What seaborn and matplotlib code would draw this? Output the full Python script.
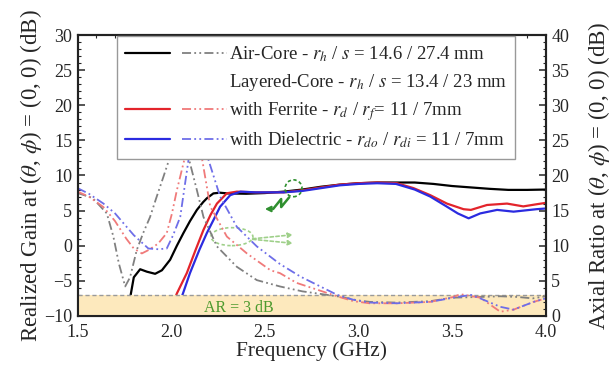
import numpy as np
import pandas as pd
import matplotlib
matplotlib.use("Agg")
import matplotlib.pyplot as plt
from matplotlib.patches import Ellipse
from matplotlib.legend_handler import HandlerTuple
import seaborn as sns

# == DATA ==
# realized gain (dB), left axis
air_f = [1.771, 1.78, 1.80, 1.834, 1.87, 1.914, 1.95, 1.994, 2.03, 2.065, 2.10, 2.137, 2.17, 2.19,
         2.225, 2.26, 2.30, 2.40, 2.50, 2.60, 2.70, 2.80, 2.90, 3.00, 3.10, 3.20, 3.30, 3.40,
         3.50, 3.60, 3.70, 3.80, 3.90, 4.00]
air_gain = [-10, -7.5, -4.5, -3.35, -3.7, -4.0, -3.5, -2.0, 0.0, 1.8, 3.5, 5.1, 6.2, 6.75,
            7.45, 7.55, 7.45, 7.4, 7.5, 7.7, 8.0, 8.4, 8.7, 8.9, 9.0, 9.0, 9.0, 8.8,
            8.5, 8.3, 8.1, 7.95, 7.95, 8.0]

fer_f = [1.959, 1.994, 2.03, 2.083, 2.13, 2.172, 2.21, 2.244, 2.297, 2.35, 2.45, 2.60, 2.70, 2.80,
         2.90, 3.00, 3.10, 3.205, 3.294, 3.383, 3.472, 3.561, 3.60, 3.686, 3.793, 3.88, 3.95, 4.00]
fer_gain = [-10, -9.3, -6.8, -3.9, -0.6, 2.25, 4.4, 6.0, 7.47, 7.7, 7.6, 7.6, 7.9, 8.3,
            8.7, 8.9, 9.0, 8.9, 8.2, 7.2, 6.0, 5.2, 5.1, 5.8, 6.0, 5.6, 5.9, 6.1]

die_f = [2.02, 2.06, 2.10, 2.15, 2.19, 2.23, 2.261, 2.315, 2.37, 2.45, 2.60, 2.70, 2.80, 2.90,
         3.00, 3.10, 3.20, 3.30, 3.383, 3.472, 3.53, 3.588, 3.65, 3.74, 3.828, 3.95, 4.00]
die_gain = [-10, -7.0, -3.9, -0.6, 1.8, 3.9, 5.56, 7.2, 7.7, 7.6, 7.6, 7.8, 8.2, 8.6,
            8.8, 8.9, 8.8, 8.0, 7.0, 5.56, 4.6, 3.9, 4.6, 5.1, 4.85, 5.2, 5.3]

# axial ratio (dB), right axis
air_ar_f = [1.50, 1.58, 1.656, 1.691, 1.72, 1.754, 1.78, 1.816, 1.85, 1.887, 1.92, 1.958, 1.994,
            2.045, 2.092, 2.137, 2.172, 2.244, 2.35, 2.457, 2.58, 2.70, 2.886, 3.00, 3.06, 3.20,
            3.383, 3.50, 3.65, 3.757, 3.85, 3.93, 4.00]
air_ar = [17.5, 16.8, 14.6, 11.3, 7.5, 4.2, 5.5, 9.4, 11.8, 14.1, 16.8, 19.8, 22.7,
          36.0, 22.6, 17.9, 14.1, 9.9, 7.0, 5.1, 4.2, 3.5, 2.8, 2.2, 2.0, 1.9,
          2.1, 2.6, 2.7, 2.8, 2.7, 2.5, 2.8]

fer_ar_f = [1.50, 1.56, 1.638, 1.70, 1.76, 1.80, 1.843, 1.88, 1.93, 1.976, 2.003, 2.03, 2.074,
            2.12, 2.163, 2.208, 2.297, 2.404, 2.53, 2.58, 2.67, 2.886, 2.973, 3.06, 3.205,
            3.383, 3.507, 3.543, 3.65, 3.757, 3.828, 3.935, 4.00]
fer_ar = [17.7, 17.0, 15.5, 13.5, 11.0, 9.6, 8.9, 9.4, 10.3, 11.8, 14.5, 17.9, 22.7,
          36.0, 22.6, 15.6, 11.3, 8.9, 6.5, 6.1, 4.7, 2.8, 2.1, 1.8, 1.8,
          2.0, 2.7, 3.1, 2.6, 0.6, 0.9, 2.0, 2.5]

die_ar_f = [1.50, 1.56, 1.638, 1.70, 1.745, 1.80, 1.878, 1.93, 1.976, 2.01, 2.048, 2.092,
            2.145, 2.199, 2.261, 2.35, 2.457, 2.58, 2.69, 2.886, 2.973, 3.06, 3.205, 3.383,
            3.507, 3.60, 3.65, 3.757, 3.828, 3.935, 4.00]
die_ar = [18.2, 17.4, 16.0, 14.6, 13.2, 11.5, 9.6, 9.5, 9.6, 11.5, 14.1, 22.2,
          36.0, 22.2, 17.0, 12.7, 9.9, 7.4, 5.6, 3.0, 2.3, 1.9, 1.8, 2.0,
          2.6, 3.0, 2.5, 1.3, 0.9, 2.0, 2.5]

labels = ["Air-Core - $r_h$ / $s$ = 14.6 / 27.4 mm",
          "Layered-Core - $r_h$ / $s$ = 13.4 / 23 mm",
          "with Ferrite - $r_d$ / $r_f$= 11 / 7mm",
          "with Dielectric - $r_{do}$ / $r_{di}$ = 11 / 7mm"]

# ==== PLOT ====
sns.set_theme(style="ticks")
plt.rcParams['font.family'] = ['Liberation Serif', 'DejaVu Serif']
plt.rcParams['mathtext.fontset'] = 'stix'

fig = plt.figure(figsize=(6.16, 3.73), dpi=100)
ax = fig.add_axes([0.126, 0.153, 0.760, 0.753])
ax2 = ax.twinx()

solid_cols = ['black', '#e3242b', '#2b2be0']
ar_cols = ['#808080', '#f07a7a', '#6e6ee8']
ddot = (0, (5, 1.8, 1, 1.8, 1, 1.8))

# AR = 3 dB band
ax2.axhspan(0, 3, color='#fde9bd', zorder=0, lw=0)
ax2.axhline(3, color='#9a9a9a', lw=1.0, ls=(0, (3, 2)), zorder=1)

gains = [(air_f, air_gain), (fer_f, fer_gain), (die_f, die_gain)]
ars = [(air_ar_f, air_ar), (fer_ar_f, fer_ar), (die_ar_f, die_ar)]

for (f, g), c in zip(gains, solid_cols):
    sns.lineplot(x=f, y=g, ax=ax, color=c, lw=1.6, estimator=None, zorder=3)
for (f, a), c in zip(ars, ar_cols):
    sns.lineplot(x=f, y=a, ax=ax2, color=c, lw=1.3, linestyle=ddot, estimator=None, zorder=2)

ax.set_xlim(1.5, 4.0)
ax.set_ylim(-10, 30)
ax2.set_ylim(0, 40)
ax.set_xticks(np.arange(1.5, 4.01, 0.5))
ax.set_xticks(np.arange(1.5, 4.01, 0.1), minor=True)
ax.set_yticks(np.arange(-10, 31, 5))
ax.set_yticks(np.arange(-10, 31, 1), minor=True)
ax2.set_yticks(np.arange(0, 41, 5))
ax2.set_yticks(np.arange(0, 41, 1), minor=True)

ax.tick_params(which='both', direction='in', top=True, right=False, labelsize=13, pad=4)
ax.tick_params(axis='x', which='major', pad=6)
ax.tick_params(which='major', length=5, width=1.1)
ax.tick_params(which='minor', length=2.5, width=0.8)
ax2.tick_params(which='both', direction='in', labelsize=13, pad=4)
ax2.tick_params(which='major', length=5, width=1.1)
ax2.tick_params(which='minor', length=2.5, width=0.8)
ax.xaxis.set_major_formatter(matplotlib.ticker.FormatStrFormatter('%.1f'))
for a in (ax, ax2):
    for s in a.spines.values():
        s.set_linewidth(1.5)
        s.set_color('#222222')

ax.set_xlabel('Frequency (GHz)', fontsize=15.5, labelpad=0)
ax.set_ylabel(r'Realized Gain at ($\theta$, $\phi$) = (0, 0) (dB)', fontsize=16.5, labelpad=0)
ax2.set_ylabel(r'Axial Ratio at ($\theta$, $\phi$) = (0, 0) (dB)', fontsize=16.5, labelpad=12)

# annotations
green = '#2f8f2f'
light_green = '#9fd08a'
ax2.text(2.36, 1.2, 'AR = 3 dB', color='#4d9a2e', fontsize=11.5, ha='center', va='center')
ax.add_patch(Ellipse((2.653, 8.18), 0.09, 2.4, fill=False, ec=green, ls=(0, (2, 1.5)), lw=1.2, zorder=5))
ax.plot([2.63, 2.587, 2.587, 2.544], [6.9, 5.5, 6.65, 5.23], color=green, lw=1.8, zorder=5)
ax.annotate('', xy=(2.485, 5.23), xytext=(2.546, 5.23),
            arrowprops=dict(arrowstyle='-|>', color=green, lw=1.5, mutation_scale=8), zorder=5)
ax.add_patch(Ellipse((2.324, 1.29), 0.224, 2.56, fill=False, ec=light_green, ls=(0, (2, 1.5)), lw=1.2, zorder=5))
for yt in (1.6, 0.3):
    ax.annotate('', xy=(2.665, yt), xytext=(2.42, 0.95),
                arrowprops=dict(arrowstyle='-|>', color=light_green, lw=1.2, ls=(0, (2, 1.5)),
                                mutation_scale=7), zorder=5)

# legend
h_solid = [plt.Line2D([], [], color=c, lw=1.6) for c in solid_cols]
h_ar = [plt.Line2D([], [], color=c, lw=1.3, ls=ddot) for c in ar_cols]
blank = plt.Line2D([], [], ls='none')
handles = [(h_solid[0], h_ar[0]), (blank, blank), (h_solid[1], h_ar[1]), (h_solid[2], h_ar[2])]
leg = ax2.legend(handles, labels, handler_map={tuple: HandlerTuple(ndivide=None, pad=0.6)},
                 loc='upper left', bbox_to_anchor=(0.084, 0.997), borderaxespad=0,
                 fontsize=13.5, handlelength=5.4, handletextpad=0.1, labelspacing=0.4,
                 frameon=True, fancybox=False, framealpha=1, edgecolor='#999999',
                 borderpad=0.45)
leg.get_frame().set_linewidth(1.0)
leg.set_zorder(10)

plt.savefig('out.png', dpi=100)
plt.close()
